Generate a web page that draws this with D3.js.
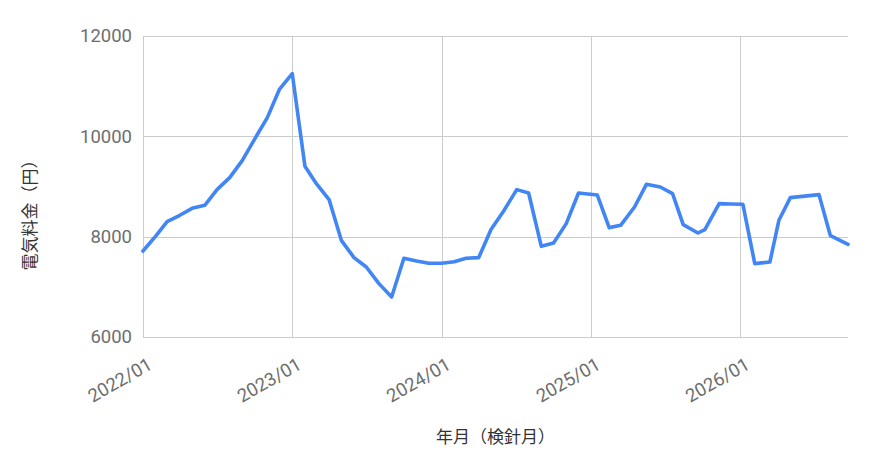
<!DOCTYPE html>
<html>
<head>
<meta charset="utf-8">
<script src="https://cdn.jsdelivr.net/npm/d3@7"></script>
<style>
  html, body { margin: 0; padding: 0; background: #fff; }
  svg { display: block; }
</style>
</head>
<body>
<svg id="chart" width="872" height="472"></svg>
<script>
// Reading dates (検針月) and monthly electricity bill (円)
const readingDates = [
  "2022-01-01","2022-02-01","2022-03-01","2022-04-01","2022-05-01","2022-06-01",
  "2022-07-01","2022-08-01","2022-09-01","2022-10-01","2022-11-01","2022-12-01",
  "2023-01-01","2023-02-01","2023-03-01","2023-04-01","2023-05-01","2023-06-01",
  "2023-07-01","2023-08-01","2023-09-01","2023-10-01","2023-11-01","2023-12-01",
  "2024-01-01","2024-02-01","2024-03-01","2024-04-01","2024-05-01","2024-06-01",
  "2024-07-03","2024-08-01","2024-09-01","2024-10-01","2024-11-01","2024-12-01",
  "2025-01-16","2025-02-14","2025-03-14","2025-04-17","2025-05-16","2025-06-19",
  "2025-07-19","2025-08-14","2025-09-19","2025-10-06","2025-11-10","2025-12-08",
  "2026-01-07","2026-02-05","2026-03-14","2026-04-05","2026-05-03","2026-06-07",
  "2026-07-12","2026-08-09","2026-09-21"
];
const billYen = [
  7714, 8010, 8300, 8426, 8565, 8625, 8938, 9177, 9522, 9946, 10373, 10943,
  11250, 9402, 9057, 8739, 7927, 7583, 7395, 7064, 6797, 7569, 7515, 7469,
  7469, 7500, 7569, 7583, 8141, 8512, 8938, 8870, 7808, 7874, 8260, 8870,
  8830, 8180, 8226, 8591, 9044, 8990, 8857, 8239, 8073, 8141, 8658, 8650,
  8645, 7463, 7495, 8326, 8778, 8808, 8838, 8020, 7847
];
const yTickValues = [6000, 8000, 10000, 12000];
const xTickDates = ["2022-01-01","2023-01-01","2024-01-01","2025-01-01","2026-01-01"];
const xTickLabels = ["2022/01","2023/01","2024/01","2025/01","2026/01"];
const yTitle = "電気料金（円）";
const xTitle = "年月（検針月）";

const parse = d3.timeParse("%Y-%m-%d");
const data = readingDates.map((d, i) => ({ date: parse(d), value: billYen[i] }));

const margin = { left: 143, right: 24, top: 36, bottom: 135 };
const W = 872, H = 472;
const innerW = W - margin.left - margin.right;
const innerH = H - margin.top - margin.bottom;

const svg = d3.select("#chart");
const g = svg.append("g").attr("transform", `translate(${margin.left},${margin.top})`);

const x = d3.scaleTime()
  .domain([parse(readingDates[0]), parse(readingDates[readingDates.length - 1])])
  .range([0, innerW]);
const y = d3.scaleLinear().domain([6000, 12000]).range([innerH, 0]);

const tickFont = "Roboto, 'Noto Sans CJK JP', sans-serif";
const gridColor = "#cccccc";

// Horizontal gridlines + y labels
const yAxis = d3.axisLeft(y).tickValues(yTickValues).tickSize(-innerW).tickPadding(11).tickFormat(d3.format("d"));
const yg = g.append("g").call(yAxis);
yg.select(".domain").remove();
yg.selectAll(".tick line").attr("stroke", gridColor).attr("shape-rendering", "crispEdges");
yg.selectAll(".tick text")
  .attr("fill", "#6e6e6e").style("font-family", tickFont).style("font-size", "18.5px");

// Vertical gridlines + rotated x labels
const xTicks = xTickDates.map(parse);
const xAxis = d3.axisBottom(x).tickValues(xTicks).tickSize(-innerH)
  .tickFormat((d, i) => xTickLabels[i]);
const xg = g.append("g").attr("transform", `translate(0,${innerH})`).call(xAxis);
xg.select(".domain").remove();
xg.selectAll(".tick line").attr("stroke", gridColor).attr("shape-rendering", "crispEdges");
xg.selectAll(".tick text")
  .attr("fill", "#6e6e6e").style("font-family", tickFont).style("font-size", "18.5px")
  .attr("text-anchor", "end")
  .attr("x", 0).attr("y", 0).attr("dy", 0)
  .attr("transform", "translate(10,31) rotate(-30)");

// Line
const line = d3.line().x(d => x(d.date)).y(d => y(d.value));
g.append("path")
  .datum(data)
  .attr("fill", "none")
  .attr("stroke", "#4285F4")
  .attr("stroke-width", 3.6)
  .attr("stroke-linejoin", "round")
  .attr("stroke-linecap", "round")
  .attr("d", line);

// Axis titles
const titleFont = "'Noto Sans CJK JP', 'Noto Sans', sans-serif";
svg.append("text")
  .attr("x", margin.left + innerW / 2)
  .attr("y", 443)
  .attr("text-anchor", "middle")
  .attr("fill", "#333")
  .style("font-family", titleFont).style("font-size", "17px")
  .text(xTitle);

svg.append("text")
  .attr("transform", "translate(36,211) rotate(-90)")
  .attr("text-anchor", "middle")
  .attr("fill", "#333")
  .style("font-family", titleFont).style("font-size", "17px")
  .text(yTitle);
</script>
</body>
</html>
